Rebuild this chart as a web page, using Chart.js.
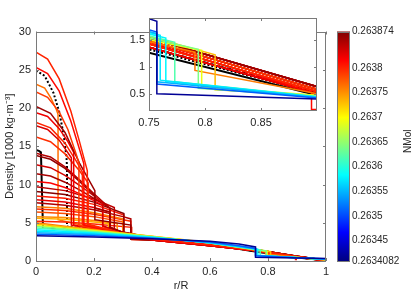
<!DOCTYPE html>
<html>
<head>
<meta charset="utf-8">
<script src="https://cdn.jsdelivr.net/npm/chart.js@4.4.1/dist/chart.umd.min.js"></script>
<style>
  html, body { margin: 0; padding: 0; background: #fff; }
  #wrap { position: relative; width: 415px; height: 295px; }
  #main { position: absolute; left: 0; top: 0; }
  #inset { position: absolute; left: 120px; top: 0; }
</style>
</head>
<body>
<div id="wrap">
  <canvas id="main" width="415" height="295"></canvas>
  <canvas id="inset" width="205" height="135"></canvas>
</div>
<script>
// colour bar (NMol)
const cbMin = 0.2634082;
const cbMax = 0.263874;
const cbTicks = [0.2634082, 0.26345, 0.2635, 0.26355, 0.2636, 0.26365, 0.2637, 0.26375, 0.2638, 0.263874];
const cbTickLabels = ['0.2634082', '0.26345', '0.2635', '0.26355', '0.2636', '0.26365', '0.2637', '0.26375', '0.2638', '0.263874'];

const insetXTicks = [0.75, 0.8, 0.85];
const insetYTicks = [0.5, 1, 1.5];

// models without a dense core, [r/R, density]
const mantleNmol = [0.263418, 0.26351, 0.26355, 0.263572, 0.26358, 0.26362, 0.26364, 0.26369, 0.26373, 0.26376];
const mantleProfiles = [
  [[0, 3.3], [0.2, 3.15], [0.4, 2.92], [0.6, 2.58], [0.7, 2.22], [0.757, 1.84], [0.757, 0.5], [0.9, 0.4], [1, 0.32]],
  [[0, 3.5], [0.2, 3.3], [0.4, 2.97], [0.6, 2.48], [0.7, 2.0], [0.757, 1.64], [0.757, 0.68], [0.9, 0.42], [1, 0.28]],
  [[0, 3.7], [0.2, 3.45], [0.4, 3.02], [0.6, 2.42], [0.7, 1.94], [0.757, 1.61], [0.757, 0.72], [0.9, 0.43], [1, 0.26]],
  [[0, 3.9], [0.2, 3.56], [0.4, 3.06], [0.6, 2.38], [0.7, 1.9], [0.76, 1.58], [0.76, 0.75], [0.9, 0.44], [1, 0.24]],
  [[0, 4.1], [0.2, 3.66], [0.4, 3.1], [0.6, 2.37], [0.7, 1.86], [0.765, 1.53], [0.765, 0.73], [0.9, 0.44], [1, 0.22]],
  [[0, 4.3], [0.2, 3.76], [0.4, 3.13], [0.6, 2.36], [0.7, 1.83], [0.773, 1.45], [0.773, 0.72], [0.9, 0.45], [1, 0.2]],
  [[0, 4.5], [0.2, 3.86], [0.4, 3.16], [0.6, 2.36], [0.75, 1.53], [0.794, 1.32], [0.794, 0.6], [0.9, 0.45], [1, 0.18]],
  [[0, 4.65], [0.2, 3.95], [0.4, 3.2], [0.6, 2.39], [0.75, 1.5], [0.797, 1.3], [0.797, 0.63], [0.9, 0.47], [1, 0.17]],
  [[0, 4.85], [0.2, 4.05], [0.4, 3.24], [0.6, 2.43], [0.75, 1.56], [0.809, 1.22], [0.809, 0.57], [0.9, 0.47], [1, 0.15]],
  [[0, 5.0], [0.2, 4.1], [0.4, 3.2], [0.6, 2.35], [0.75, 1.46], [0.791, 1.27], [0.791, 0.93], [0.87, 0.62], [0.9, 0.5], [1, 0.12]]
];

// outer mantle shapes shared by the cored models
const tailLow = [[0.4, 2.74], [0.6, 2.0], [0.75, 1.36], [0.9, 0.5], [1, 0.04]];
const tailMid = [[0.4, 2.88], [0.6, 2.1], [0.75, 1.42], [0.9, 0.54], [1, 0.06]];
const tailHigh = [[0.4, 2.98], [0.6, 2.2], [0.75, 1.48], [0.9, 0.58], [1, 0.08]];
const tailTop = [[0.4, 3.05], [0.6, 2.28], [0.75, 1.53], [0.9, 0.63], [1, 0.1]];
const tailStep = [[0.4, 2.92], [0.6, 2.15], [0.75, 1.45], [0.895, 0.53], [0.895, 0.21], [0.9, 0.21]];
const tails = [tailLow, tailMid, tailHigh, tailTop, tailStep];

// models with a dense core
const coreNmol = [0.2638, 0.263812, 0.26379, 0.26386, 0.263822, 0.2638, 0.263832, 0.263795, 0.26385, 0.263866,
  0.263836, 0.263856, 0.263816, 0.263846, 0.26387, 0.263805, 0.263826, 0.263852, 0.26376, 0.263796,
  0.26378, 0.263752, 0.263735, 0.2638, 0.263765];
const coreTail = [1, 4, 2, 3, 0, 1, 2, 1, 3, 0, 2, 3, 0, 3, 3, 1, 2, 0, 2, 0, 1, 2, 1, 0, 2];
const coreProfiles = [
  [[0, 27.3], [0.04, 26.4], [0.08, 23.8], [0.12, 19.6], [0.15, 15.6], [0.177, 11.8], [0.177, 4.75], [0.3, 3.58]],
  [[0, 25.3], [0.04, 24.5], [0.08, 22.2], [0.12, 18.3], [0.15, 14.6], [0.165, 12.7], [0.165, 4.7], [0.3, 3.55]],
  [[0, 22.1], [0.04, 21.4], [0.08, 19.5], [0.11, 17.2], [0.14, 13.8], [0.148, 12.8], [0.148, 4.65], [0.3, 3.5]],
  [[0, 20.2], [0.05, 19.3], [0.1, 16.8], [0.15, 12.8], [0.203, 9.2], [0.203, 6.9], [0.255, 6.4], [0.255, 4.35], [0.3, 3.75]],
  [[0, 19.4], [0.04, 18.9], [0.08, 17.3], [0.11, 15.6], [0.13, 14.2], [0.13, 4.7], [0.3, 3.55]],
  [[0, 18.1], [0.05, 17.4], [0.1, 15.4], [0.14, 13.0], [0.16, 11.6], [0.16, 4.8], [0.3, 3.6]],
  [[0, 17.7], [0.04, 17.2], [0.08, 15.8], [0.122, 13.5], [0.122, 4.7], [0.3, 3.55]],
  [[0, 16.2], [0.05, 15.6], [0.1, 14.0], [0.15, 11.8], [0.18, 10.2], [0.18, 4.8], [0.3, 3.65]],
  [[0, 14.1], [0.05, 13.6], [0.1, 12.3], [0.15, 10.6], [0.2, 8.8], [0.255, 6.9], [0.255, 4.4], [0.3, 3.72]],
  [[0, 13.8], [0.05, 13.3], [0.1, 12.1], [0.15, 10.4], [0.203, 8.5], [0.203, 5.4], [0.327, 4.7], [0.327, 2.85]],
  [[0, 12.6], [0.05, 12.2], [0.1, 11.2], [0.15, 9.9], [0.2, 8.5], [0.23, 7.6], [0.23, 4.6], [0.3, 3.62]],
  [[0, 11.4], [0.05, 11.1], [0.1, 10.3], [0.15, 9.3], [0.2, 8.2], [0.255, 6.9], [0.255, 4.45], [0.3, 3.7]],
  [[0, 10.4], [0.05, 10.2], [0.1, 9.6], [0.15, 8.8], [0.2, 7.9], [0.23, 7.3], [0.23, 4.5], [0.3, 3.6]],
  [[0, 9.7], [0.1, 9.2], [0.2, 8.1], [0.27, 7.0], [0.27, 4.0], [0.3, 3.78]],
  [[0, 9.1], [0.1, 8.7], [0.2, 7.7], [0.303, 6.2], [0.303, 3.5]],
  [[0, 8.5], [0.1, 8.2], [0.2, 7.4], [0.303, 6.0], [0.303, 3.4]],
  [[0, 8.0], [0.1, 7.7], [0.2, 7.0], [0.255, 6.4], [0.255, 4.2], [0.3, 3.7]],
  [[0, 7.6], [0.1, 7.3], [0.2, 6.7], [0.3, 5.8], [0.327, 5.5], [0.327, 2.9]],
  [[0, 7.1], [0.1, 6.9], [0.2, 6.3], [0.3, 5.5], [0.3, 3.4]],
  [[0, 6.8], [0.1, 6.6], [0.2, 6.1], [0.3, 5.4], [0.327, 5.2], [0.327, 2.85]],
  [[0, 6.4], [0.1, 6.2], [0.2, 5.8], [0.3, 5.1], [0.3, 3.3]],
  [[0, 5.8], [0.1, 5.7], [0.2, 5.3], [0.28, 4.9], [0.28, 3.5]],
  [[0, 5.6], [0.1, 5.45], [0.2, 5.1], [0.25, 4.9], [0.25, 3.8], [0.3, 3.55]],
  [[0, 5.2], [0.1, 5.1], [0.2, 4.85], [0.33, 4.4], [0.33, 2.8]],
  [[0, 23.1], [0.03, 22.6], [0.05, 21.4], [0.07, 19.8], [0.076, 19.2], [0.076, 5.4], [0.2, 4.3], [0.3, 3.6]]
];

// black reference profiles
const refSolid = [[0, 14.5], [0.01, 14.4], [0.017, 14.2], [0.024, 4.4], [0.1, 4.32], [0.2, 3.92], [0.4, 3.0], [0.6, 2.18], [0.75, 1.26], [0.9, 0.47], [1, 0.08]];
const refDashed = [[0.024, 4.45], [0.2, 4.02], [0.4, 3.1], [0.6, 2.3], [0.75, 1.36], [0.9, 0.52], [1, 0.1]];
const refDotted = [[0, 24.9], [0.03, 24.2], [0.06, 22.0], [0.08, 19.5], [0.095, 16.6], [0.105, 13.6], [0.107, 12.2], [0.107, 4.5], [0.2, 4.08], [0.4, 3.06], [0.6, 2.25], [0.75, 1.32], [0.9, 0.5], [1, 0.1]];

Chart.defaults.font.family = "'Liberation Sans', Arial, Helvetica, sans-serif";
Chart.defaults.font.size = 11;
Chart.defaults.font.lineHeight = 1.1;
Chart.defaults.color = '#262626';

// MATLAB jet colour map
function jet(v) {
  const t = Math.min(1, Math.max(0, (v - cbMin) / (cbMax - cbMin)));
  const c = (x) => Math.round(255 * Math.min(1, Math.max(0, 1.5 - Math.abs(x))));
  return 'rgb(' + c(4 * t - 3) + ',' + c(4 * t - 2) + ',' + c(4 * t - 1) + ')';
}

function toXY(pts) {
  return pts.map((p) => ({ x: p[0], y: p[1] }));
}

// plain number labels: 0, 0.2, ..., 1
const plainLabel = (v) => String(parseFloat(Number(v).toFixed(3)));

function makeDatasets() {
  const sets = [];
  mantleProfiles.forEach((p, i) => {
    sets.push({ data: toXY(p), borderColor: jet(mantleNmol[i]), borderWidth: 1.5 });
  });
  coreProfiles.forEach((p, i) => {
    sets.push({ data: toXY(p.concat(tails[coreTail[i]])), borderColor: jet(coreNmol[i]), borderWidth: 1.5 });
  });
  sets.push({ data: toXY(refDashed), borderColor: '#000', borderWidth: 1.8, borderDash: [5, 3] });
  sets.push({ data: toXY(refDotted), borderColor: '#000', borderWidth: 2, borderDash: [2, 2] });
  sets.push({ data: toXY(refSolid), borderColor: '#000', borderWidth: 2 });
  sets.forEach((s) => {
    s.showLine = true;
    s.pointRadius = 0;
    s.fill = false;
    s.tension = 0;
  });
  return sets;
}

// box round the axes with inward ticks, like MATLAB
const boxPlugin = {
  id: 'box',
  beforeDatasetsDraw(chart) {
    const { ctx, chartArea: a } = chart;
    ctx.save();
    ctx.fillStyle = '#fff';
    ctx.fillRect(a.left, a.top, a.right - a.left, a.bottom - a.top);
    ctx.restore();
  },
  afterDatasetsDraw(chart) {
    const { ctx, chartArea: a, scales } = chart;
    const x = scales.x, y = scales.y;
    ctx.save();
    ctx.strokeStyle = '#7a7a7a';
    ctx.lineWidth = 1;
    ctx.strokeRect(Math.round(a.left) + 0.5, Math.round(a.top) + 0.5,
      Math.round(a.right - a.left) - 1, Math.round(a.bottom - a.top) - 1);
    ctx.beginPath();
    x.ticks.forEach((t) => {
      const px = Math.round(x.getPixelForValue(t.value)) + 0.5;
      ctx.moveTo(px, a.bottom); ctx.lineTo(px, a.bottom - 3);
      ctx.moveTo(px, a.top); ctx.lineTo(px, a.top + 3);
    });
    y.ticks.forEach((t) => {
      const py = Math.round(y.getPixelForValue(t.value)) + 0.5;
      ctx.moveTo(a.left, py); ctx.lineTo(a.left + 3, py);
      ctx.moveTo(a.right, py); ctx.lineTo(a.right - 3, py);
    });
    ctx.stroke();
    ctx.restore();
  }
};

// jet colour bar drawn next to the plot
const colorbarPlugin = {
  id: 'colorbar',
  afterDraw(chart) {
    const { ctx, chartArea: a } = chart;
    const x0 = 337, w = 13;
    const g = ctx.createLinearGradient(0, a.bottom, 0, a.top);
    g.addColorStop(0, 'rgb(0,0,128)');
    g.addColorStop(0.125, 'rgb(0,0,255)');
    g.addColorStop(0.375, 'rgb(0,255,255)');
    g.addColorStop(0.625, 'rgb(255,255,0)');
    g.addColorStop(0.875, 'rgb(255,0,0)');
    g.addColorStop(1, 'rgb(128,0,0)');
    ctx.save();
    ctx.fillStyle = g;
    ctx.fillRect(x0, a.top, w, a.bottom - a.top);
    ctx.strokeStyle = '#7a7a7a';
    ctx.lineWidth = 1;
    ctx.strokeRect(x0 + 0.5, Math.round(a.top) + 0.5, w - 1, Math.round(a.bottom - a.top) - 1);
    ctx.translate(408, (a.top + a.bottom) / 2 - 5);
    ctx.rotate(-Math.PI / 2);
    ctx.fillStyle = '#262626';
    ctx.font = "10px 'Liberation Sans', Arial, sans-serif";
    ctx.textAlign = 'center';
    ctx.textBaseline = 'middle';
    ctx.fillText('NMol', 0, 0);
    ctx.restore();
  }
};

new Chart(document.getElementById('main'), {
  type: 'scatter',
  data: { datasets: makeDatasets() },
  options: {
    responsive: false,
    animation: false,
    events: [],
    layout: { padding: { top: 6, left: 0, right: 0, bottom: 0 } },
    plugins: { legend: { display: false }, tooltip: { enabled: false } },
    scales: {
      x: {
        type: 'linear', min: 0, max: 1,
        grid: { display: false, drawTicks: false },
        border: { display: false },
        ticks: { stepSize: 0.2, padding: 5, maxRotation: 0, callback: plainLabel },
        title: { display: true, text: 'r/R', padding: { top: 0, bottom: 3 } },
        afterFit: (s) => { s.height = 34; }
      },
      y: {
        type: 'linear', min: 0, max: 30,
        grid: { display: false, drawTicks: false },
        border: { display: false },
        ticks: { stepSize: 5, padding: 5 },
        title: { display: true, text: 'Density [1000 kg·m⁻³]', padding: { top: 4, bottom: 0 } },
        afterFit: (s) => { s.width = 36; }
      },
      cb: {
        type: 'linear', axis: 'y', position: 'right', min: cbMin, max: cbMax,
        grid: { display: false, drawTicks: false },
        border: { display: false },
        ticks: {
          padding: 26, autoSkip: false, font: { size: 10 },
          callback: (v, i) => cbTickLabels[i]
        },
        afterBuildTicks: (s) => { s.ticks = cbTicks.map((v) => ({ value: v })); },
        afterFit: (s) => { s.width = 89; }
      }
    }
  },
  plugins: [boxPlugin, colorbarPlugin]
});

new Chart(document.getElementById('inset'), {
  type: 'scatter',
  data: { datasets: makeDatasets() },
  options: {
    responsive: false,
    animation: false,
    events: [],
    layout: { padding: { top: 18, left: 0, right: 8, bottom: 0 } },
    plugins: { legend: { display: false }, tooltip: { enabled: false } },
    scales: {
      x: {
        type: 'linear', min: 0.75, max: 0.8999,
        grid: { display: false, drawTicks: false },
        border: { display: false },
        ticks: { padding: 6, maxRotation: 0, autoSkip: false, callback: plainLabel },
        afterBuildTicks: (s) => { s.ticks = insetXTicks.map((v) => ({ value: v })); },
        afterFit: (s) => { s.height = 24; }
      },
      y: {
        type: 'linear', min: 0.18, max: 1.9,
        grid: { display: false, drawTicks: false },
        border: { display: false },
        ticks: { padding: 4, autoSkip: false, callback: plainLabel },
        afterBuildTicks: (s) => { s.ticks = insetYTicks.map((v) => ({ value: v })); },
        afterFit: (s) => { s.width = 29; }
      }
    }
  },
  plugins: [boxPlugin]
});
</script>
</body>
</html>
